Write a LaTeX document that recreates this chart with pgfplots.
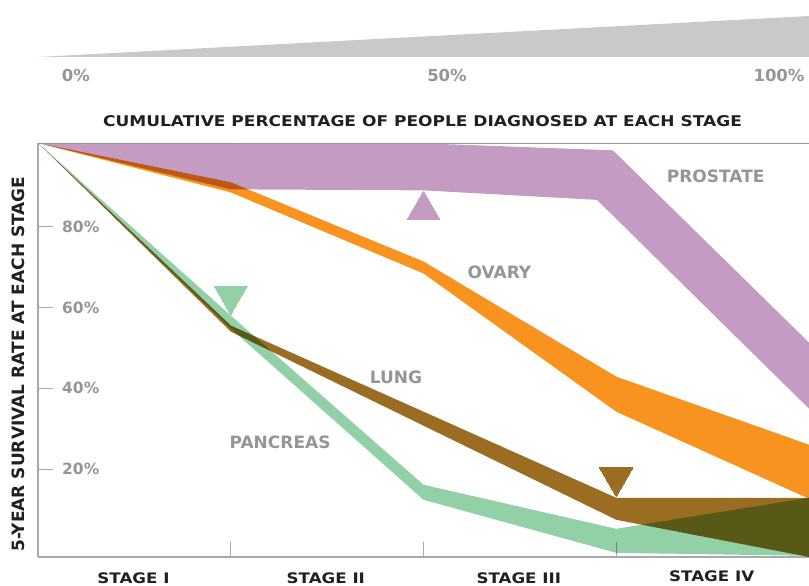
\documentclass[border=0pt]{standalone}
\usepackage{pgfplots}
\pgfplotsset{compat=1.18}
\usepackage{fontspec}
\setmainfont{DejaVu Sans}
\newfontfamily\widefont[FakeStretch=1.15]{DejaVu Sans}
\definecolor{prost}{RGB}{196,156,194}
\definecolor{ovary}{RGB}{247,147,30}
\definecolor{lung}{RGB}{154,109,35}
\definecolor{panc}{RGB}{146,208,168}
\definecolor{lbl}{RGB}{147,149,152}
\definecolor{ink}{RGB}{35,31,32}
\definecolor{axgray}{RGB}{167,169,172}
\definecolor{wedge}{RGB}{200,201,203}
\begin{document}
\begin{tikzpicture}[x=1pt,y=1pt]
\useasboundingbox (0,0) rectangle (809,586);
% top scale wedge
\fill[wedge] (38,529) -- (809,529) -- (809,570) -- cycle;
\node[text=lbl, font=\bfseries\fontsize{16.5}{16.5}\selectfont] at (76,510) {0\%};
\node[text=lbl, font=\bfseries\fontsize{16.5}{16.5}\selectfont] at (447,510) {50\%};
\node[text=lbl, font=\bfseries\fontsize{16.5}{16.5}\selectfont] at (779,510) {100\%};
\node[text=ink, font=\widefont\bfseries\fontsize{14.8}{14.8}\selectfont] at (422.5,465) {CUMULATIVE PERCENTAGE OF PEOPLE DIAGNOSED AT EACH STAGE};
\begin{axis}[
  at={(38pt,29pt)}, anchor=south west,
  scale only axis, width=771pt, height=414pt,
  xmin=0, xmax=4, ymin=-1.8, ymax=100.8,
  axis x line*=bottom, axis y line*=left,
  axis line style={axgray, line width=1.5pt},
  tick align=inside, major tick length=15pt,
  tick style={axgray, line width=1pt},
  xtick={1,2,3}, xticklabels={},
  ytick={20,40,60,80}, yticklabels={20\%,40\%,60\%,80\%},
  yticklabel style={anchor=west, xshift=24pt, inner sep=0pt, text=lbl, font=\bfseries\fontsize{15.5}{15.5}\selectfont},
]
% prostate
\addplot[fill=prost, draw=none, blend mode=multiply] coordinates {(0,100.8)(1,100.8)(2,100.72)(2.983,98.98)(4,51.34)(4,34.96)(2.90,86.70)(2,89.06)(1,89.31)(0,100.8)} -- cycle;
% ovary
\addplot[fill=ovary, draw=none, blend mode=multiply] coordinates {(0,100.8)(1,91.07)(2,71.44)(3,42.90)(4,26.03)(4,12.63)(3,34.22)(2,68.46)(1,88.56)(0,100.8)} -- cycle;
% pancreas
\addplot[fill=panc, draw=none, blend mode=multiply] coordinates {(0,100.8)(1,58.04)(2,16.10)(3,5.19)(4,12.88)(4,-1.51)(3,-0.77)(2,12.38)(1,54.80)(0,100.8)} -- cycle;
% lung
\addplot[fill=lung, draw=none, blend mode=multiply] coordinates {(0,100.8)(1,55.56)(3,12.88)(4,12.88)(4,-1.8)(3,7.42)(1,54.07)(0,100.8)} -- cycle;
% markers
\addplot[prost, only marks, mark=triangle*, mark size=19pt, mark options={solid, draw=prost, fill=prost, line width=0pt}] coordinates {(2,84.19)};
\addplot[panc, only marks, mark=triangle*, mark size=19pt, mark options={solid, draw=panc, fill=panc, line width=0pt, rotate=180}] coordinates {(1,63.0)};
\addplot[lung, only marks, mark=triangle*, mark size=19pt, mark options={solid, draw=lung, fill=lung, line width=0pt, rotate=180}] coordinates {(3,17.92)};
% series labels
\node[text=lbl, font=\bfseries\fontsize{17}{17}\selectfont] at (axis cs:3.516,92.6) {PROSTATE};
\node[text=lbl, font=\bfseries\fontsize{17}{17}\selectfont] at (axis cs:2.394,68.78) {OVARY};
\node[text=lbl, font=\bfseries\fontsize{17}{17}\selectfont] at (axis cs:1.857,42.78) {LUNG};
\node[text=lbl, font=\bfseries\fontsize{17}{17}\selectfont] at (axis cs:1.256,26.58) {PANCREAS};
\end{axis}
\draw[axgray!90!black, line width=0.8pt] (38,443) -- (809,443);
\node[rotate=90, text=ink, font=\bfseries\fontsize{17}{17}\selectfont] at (18,222) {5-YEAR SURVIVAL RATE AT EACH STAGE};
\node[anchor=base, text=ink, font=\widefont\bfseries\fontsize{14.5}{14.5}\selectfont] at (133.5,2.7) {STAGE I};
\node[anchor=base, text=ink, font=\widefont\bfseries\fontsize{14.5}{14.5}\selectfont] at (325.8,2.7) {STAGE II};
\node[anchor=base, text=ink, font=\widefont\bfseries\fontsize{14.5}{14.5}\selectfont] at (518.8,2.7) {STAGE III};
\node[anchor=base, text=ink, font=\widefont\bfseries\fontsize{14.5}{14.5}\selectfont] at (711.7,4.3) {STAGE IV};
\end{tikzpicture}
\end{document}
